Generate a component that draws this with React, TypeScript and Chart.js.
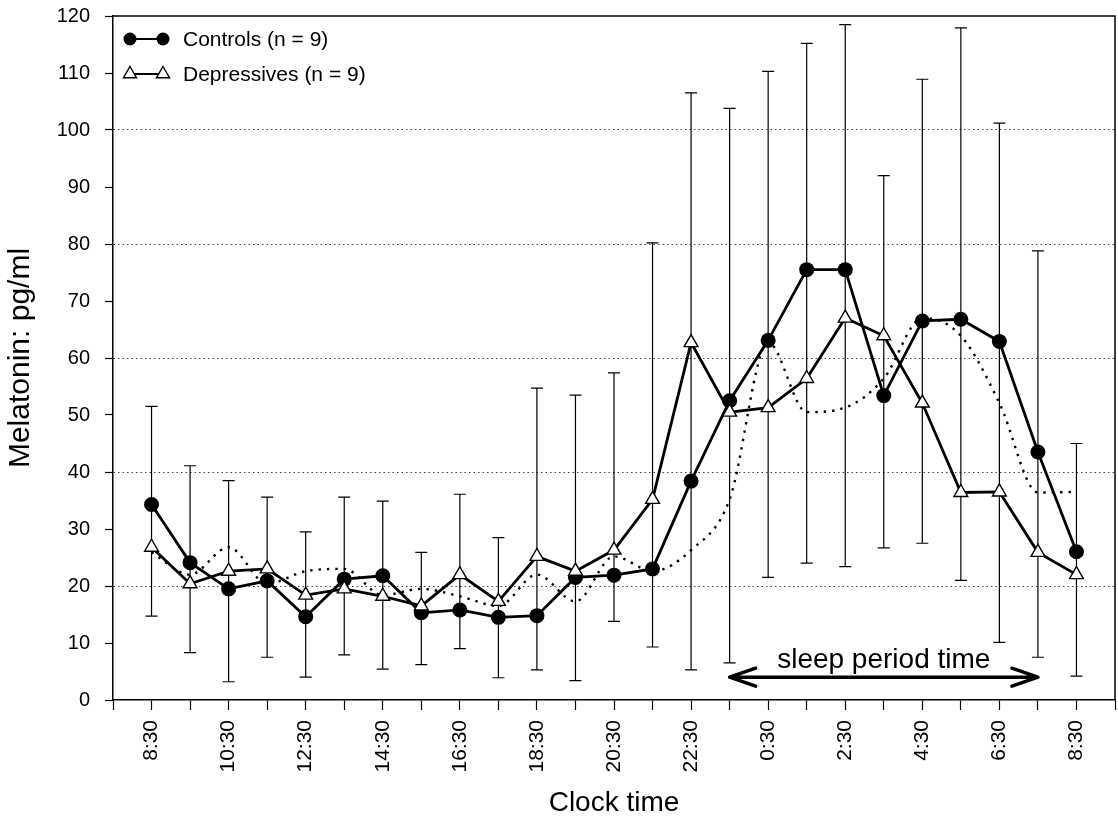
import React, { useEffect, useRef } from 'react';
import { Chart, registerables } from 'chart.js';

Chart.register(...registerables);

// ---------------- data ----------------
const timeLabels = ['8:30', '9:30', '10:30', '11:30', '12:30', '13:30', '14:30', '15:30', '16:30', '17:30', '18:30', '19:30', '20:30', '21:30', '22:30', '23:30', '0:30', '1:30', '2:30', '3:30', '4:30', '5:30', '6:30', '7:30', '8:30'];

const controls = [34.3, 24.1, 19.5, 20.9, 14.6, 21.2, 21.8, 15.3, 15.8, 14.5, 14.8, 21.5, 21.9, 23.0, 38.4, 52.5, 63.1, 75.5, 75.5, 53.4, 66.5, 66.8, 62.9, 43.5, 26.0];

const depressives = [26.8, 20.4, 22.6, 23.0, 18.4, 19.5, 18.2, 16.5, 22.0, 17.3, 25.2, 22.6, 26.3, 35.2, 62.7, 50.5, 51.3, 56.4, 67.0, 63.9, 52.1, 36.4, 36.5, 25.9, 22.0];

// depressives' curve advanced by two hours (dotted line)
const depressivesAdvanced = [25.9, 22.0, 26.8, 20.4, 22.6, 23.0, 18.4, 19.5, 18.2, 16.5, 22.0, 17.3, 25.2, 22.6, 26.3, 35.2, 62.7, 50.5, 51.3, 56.4, 67.0, 63.9, 52.1, 36.4, 36.5];

const errorBarTop = [51.5, 41.1, 38.5, 35.6, 29.5, 35.6, 34.9, 25.9, 36.1, 28.5, 54.7, 53.5, 57.4, 80.2, 106.5, 103.8, 110.3, 115.2, 118.5, 92.0, 108.9, 117.9, 101.2, 78.8, 45.0];
const errorBarBottom = [14.7, 8.3, 3.2, 7.5, 4.0, 7.9, 5.4, 6.2, 9.0, 3.9, 5.3, 3.4, 13.8, 9.3, 5.3, 6.5, 21.5, 24.0, 23.4, 26.7, 27.5, 21.0, 10.1, 7.5, 4.2];

const legendLabels = ['Controls (n = 9)', 'Depressives (n = 9)'];
const xTitle = 'Clock time';
const yTitle = 'Melatonin: pg/ml';
const sleepLabel = 'sleep period time';
const sleepStart = 15; // 23:30
const sleepEnd = 23; // 7:30
const sleepArrowLevel = 4;
const sleepTextLevel = 5.6;

const yMin = 0;
const yMax = 120;
const yStep = 10;
const gridEvery = 20;

const FONT = "'Liberation Sans', Arial, Helvetica, sans-serif";

// ---------------- helpers ----------------
function drawTriangle(ctx: CanvasRenderingContext2D, x: number, y: number, r: number) {
  const a = (2 * Math.PI) / 3;
  ctx.beginPath();
  for (let k = 0; k < 3; k++) {
    const ang = k * a;
    const px = x + Math.sin(ang) * r;
    const py = y - Math.cos(ang) * r;
    if (k === 0) ctx.moveTo(px, py);
    else ctx.lineTo(px, py);
  }
  ctx.closePath();
  ctx.fillStyle = '#fff';
  ctx.fill();
  ctx.lineWidth = 1.4;
  ctx.strokeStyle = '#000';
  ctx.stroke();
}

function drawDot(ctx: CanvasRenderingContext2D, x: number, y: number, r: number) {
  ctx.beginPath();
  ctx.arc(x, y, r, 0, Math.PI * 2);
  ctx.fillStyle = '#000';
  ctx.fill();
}

// ---------------- plugins ----------------
const errorBarPlugin = {
  id: 'errorBars',
  beforeDatasetsDraw(chart: any) {
    const { ctx, scales } = chart;
    const x = scales.x;
    const y = scales.y;
    ctx.save();
    ctx.strokeStyle = '#000';
    ctx.lineWidth = 1.2;
    errorBarTop.forEach((top: number, i: number) => {
      const px = x.getPixelForValue(i);
      const yt = y.getPixelForValue(top);
      const yb = y.getPixelForValue(errorBarBottom[i]);
      ctx.beginPath();
      ctx.moveTo(px, yt);
      ctx.lineTo(px, yb);
      ctx.moveTo(px - 6, yt);
      ctx.lineTo(px + 6, yt);
      ctx.moveTo(px - 6, yb);
      ctx.lineTo(px + 6, yb);
      ctx.stroke();
    });
    ctx.restore();
  },
};

const framePlugin = {
  id: 'frame',
  beforeDatasetsDraw(chart: any) {
    const { ctx, chartArea } = chart;
    ctx.save();
    ctx.strokeStyle = '#000';
    ctx.lineWidth = 1.5;
    ctx.beginPath();
    ctx.moveTo(chartArea.left, chartArea.top);
    ctx.lineTo(chartArea.right, chartArea.top);
    ctx.lineTo(chartArea.right, chartArea.bottom);
    ctx.stroke();
    ctx.restore();
  },
};

const sleepPlugin = {
  id: 'sleepPeriod',
  afterDatasetsDraw(chart: any) {
    const { ctx, scales } = chart;
    const x = scales.x;
    const y = scales.y;
    const xl = x.getPixelForValue(sleepStart);
    const xr = x.getPixelForValue(sleepEnd);
    const ay = y.getPixelForValue(sleepArrowLevel);
    ctx.save();
    ctx.strokeStyle = '#000';
    ctx.lineWidth = 3.5;
    ctx.lineCap = 'round';
    ctx.lineJoin = 'round';
    ctx.beginPath();
    ctx.moveTo(xl, ay);
    ctx.lineTo(xr, ay);
    ctx.moveTo(xl + 26, ay - 9);
    ctx.lineTo(xl, ay);
    ctx.lineTo(xl + 26, ay + 9);
    ctx.moveTo(xr - 26, ay - 9);
    ctx.lineTo(xr, ay);
    ctx.lineTo(xr - 26, ay + 9);
    ctx.stroke();
    ctx.fillStyle = '#000';
    ctx.font = `28px ${FONT}`;
    ctx.textAlign = 'center';
    ctx.textBaseline = 'alphabetic';
    ctx.fillText(sleepLabel, (xl + xr) / 2, y.getPixelForValue(sleepTextLevel));
    ctx.restore();
  },
};

const legendPlugin = {
  id: 'insideLegend',
  afterDraw(chart: any) {
    const { ctx, chartArea } = chart;
    ctx.save();
    legendLabels.forEach((label: string, k: number) => {
      const cy = chartArea.top + 23 + k * 35;
      const x1 = chartArea.left + 17;
      const x2 = chartArea.left + 50;
      ctx.strokeStyle = '#000';
      ctx.lineWidth = 2;
      ctx.beginPath();
      ctx.moveTo(x1, cy);
      ctx.lineTo(x2, cy);
      ctx.stroke();
      if (k === 0) {
        drawDot(ctx, x1, cy, 6.5);
        drawDot(ctx, x2, cy, 6.5);
      } else {
        drawTriangle(ctx, x1, cy, 7.5);
        drawTriangle(ctx, x2, cy, 7.5);
      }
      ctx.fillStyle = '#000';
      ctx.font = `21px ${FONT}`;
      ctx.textAlign = 'left';
      ctx.textBaseline = 'middle';
      ctx.fillText(label, chartArea.left + 70, cy + 1);
    });
    ctx.restore();
  },
};

const zeroPadding = (s: any) => {
  s.paddingLeft = 0;
  s.paddingRight = 0;
  s.paddingTop = 0;
  s.paddingBottom = 0;
};

// ---------------- component ----------------
export default function App() {
  const canvasRef = useRef<HTMLCanvasElement>(null);

  useEffect(() => {
    const canvas = canvasRef.current;
    if (!canvas) return;

    const toPoints = (arr: number[]) => arr.map((v, i) => ({ x: i, y: v }));

    const chart = new Chart(canvas, {
      type: 'line',
      data: {
        datasets: [
          {
            label: legendLabels[0],
            data: toPoints(controls),
            borderColor: '#000',
            borderWidth: 2.8,
            pointStyle: 'circle',
            pointRadius: 7.5,
            pointBackgroundColor: '#000',
            pointBorderColor: '#000',
            pointBorderWidth: 0,
            tension: 0,
            order: 1,
          },
          {
            label: legendLabels[1],
            data: toPoints(depressives),
            borderColor: '#000',
            borderWidth: 2.8,
            pointStyle: 'triangle',
            pointRadius: 8,
            pointBackgroundColor: '#fff',
            pointBorderColor: '#000',
            pointBorderWidth: 1.4,
            tension: 0,
            order: 0,
          },
          {
            label: 'Depressives advanced 2 h',
            data: toPoints(depressivesAdvanced),
            borderColor: '#000',
            borderWidth: 2.4,
            borderDash: [2.4, 6],
            pointRadius: 0,
            cubicInterpolationMode: 'monotone',
            order: 2,
          },
        ],
      },
      options: {
        responsive: false,
        animation: false,
        events: [],
        layout: { autoPadding: false, padding: { top: 16, right: 3, bottom: 0, left: 0 } },
        plugins: {
          legend: { display: false },
          tooltip: { enabled: false },
        },
        scales: {
          x: {
            type: 'linear',
            min: -1,
            max: timeLabels.length,
            afterFit: (s: any) => {
              s.height = 117;
              zeroPadding(s);
            },
            ticks: {
              stepSize: 1,
              autoSkip: false,
              minRotation: 90,
              maxRotation: 90,
              padding: 10,
              color: '#000',
              font: { family: FONT, size: 21 },
              callback: (value: any) => {
                const i = Number(value);
                return i >= 0 && i < timeLabels.length && i % 2 === 0 ? timeLabels[i] : '';
              },
            },
            grid: {
              drawOnChartArea: false,
              drawTicks: true,
              tickLength: 10,
              tickColor: '#000',
              tickWidth: 1.2,
            },
            border: { display: true, color: '#000', width: 1.5 },
            title: {
              display: true,
              text: xTitle,
              color: '#000',
              font: { family: FONT, size: 28, lineHeight: 1 },
              padding: { top: 0, bottom: 0 },
            },
          },
          y: {
            type: 'linear',
            min: yMin,
            max: yMax,
            afterFit: (s: any) => {
              s.width = 113;
              zeroPadding(s);
            },
            ticks: {
              stepSize: yStep,
              padding: 15,
              color: '#000',
              font: { family: FONT, size: 20 },
            },
            grid: {
              color: (c: any) => {
                if (!c.tick) return 'transparent';
                const v = c.tick.value;
                return v % gridEvery === 0 && v > yMin && v < yMax ? '#444' : 'transparent';
              },
              lineWidth: 1,
              drawTicks: true,
              tickLength: 8,
              tickColor: '#000',
              tickWidth: 1.2,
            },
            border: { display: true, color: '#000', width: 1.5, dash: [1.5, 3] },
            title: {
              display: true,
              text: yTitle,
              color: '#000',
              font: { family: FONT, size: 30, lineHeight: 1 },
              padding: { top: 6, bottom: 0 },
            },
          },
        },
      } as any,
      plugins: [framePlugin, errorBarPlugin, sleepPlugin, legendPlugin],
    });

    return () => chart.destroy();
  }, []);

  return (
    <div style={{ position: 'fixed', left: 0, top: 0, width: 1118, height: 817, background: '#fff' }}>
      <canvas ref={canvasRef} width={1118} height={817} style={{ display: 'block', width: 1118, height: 817 }} />
    </div>
  );
}
